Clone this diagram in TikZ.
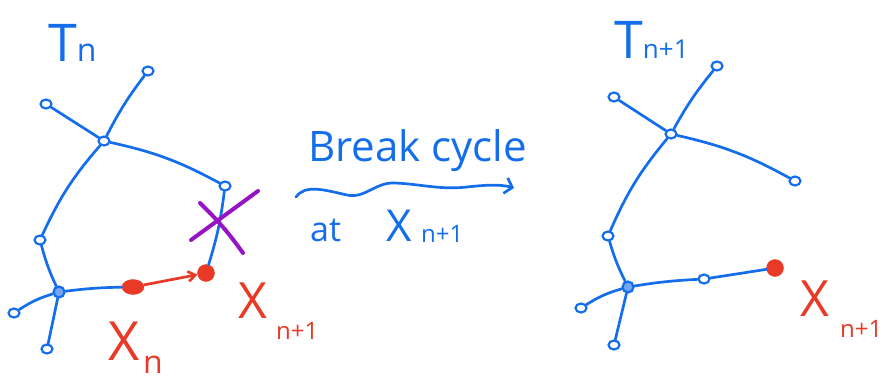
\documentclass[tikz,border=0pt]{standalone}
\usepackage{fontspec}
\setmainfont{Open Sans}
\usetikzlibrary{arrows.meta,shapes.geometric}
\definecolor{pblue}{RGB}{20,110,235}
\definecolor{pred}{RGB}{232,58,38}
\definecolor{ppurple}{RGB}{150,20,195}
\begin{document}
\begin{tikzpicture}[x=1pt,y=-1pt,
  edge/.style={draw=pblue,line width=2.7pt,line cap=round},
  leaf/.style={draw=pblue,line width=2.2pt,ellipse,minimum width=11pt,minimum height=9pt,inner sep=0pt},
  hub/.style={draw=pblue,fill=pblue!60,line width=2.2pt,circle,minimum size=11pt,inner sep=0pt},
  reddot/.style={draw=pred,fill=pred,circle,minimum size=17pt,inner sep=0pt},
  redoval/.style={draw=pred,fill=pred,ellipse,minimum width=22pt,minimum height=15pt,inner sep=0pt},
  bluetxt/.style={text=pblue,inner sep=0pt},
  redtxt/.style={text=pred,inner sep=0pt}]
\useasboundingbox (0,0) rectangle (886,381);
% ---------- left tree ----------
\node[bluetxt,font=\fontsize{52}{52}\selectfont,anchor=base west] (tn) at (48,61) {T\fontsize{32}{32}\selectfont n};
\node[leaf] (a) at (148,71) {};
\node[leaf] (b) at (46,104) {};
\node[leaf] (c) at (104,141) {};
\node[leaf] (d) at (225,186) {};
\node[leaf] (e) at (40,240) {};
\node[hub]  (f) at (59,292) {};
\node[leaf] (g) at (14,313) {};
\node[leaf] (h) at (47,349) {};
\node[redoval] (xn) at (133,287) {};
\node[reddot] (xm) at (206,273) {};
\draw[edge] (c) to[bend left=5] (a);
\draw[edge] (b) -- (c);
\draw[edge] (c) to[bend left=8] (d);
\draw[edge] (e) to[bend left=8] (c);
\draw[edge] (e) to[bend right=5] (f);
\draw[edge] (g) to[bend left=8] (f);
\draw[edge] (f) -- (h);
\draw[edge] (f) to[bend left=3] (xn);
\draw[edge] (d) to[bend left=5] (xm);
\draw[draw=pred,line width=2.7pt,-{Straight Barb[length=7pt,width=10pt]}] (xn) -- (xm);
\draw[draw=ppurple,line width=4pt,line cap=round] (200,203) to[bend left=5] (243,253);
\draw[draw=ppurple,line width=4pt,line cap=round] (191,240) -- (258,191);
\node[redtxt,font=\fontsize{54}{54}\selectfont,anchor=base west] (lxn) at (108,360) {X};
\node[redtxt,font=\fontsize{32}{32}\selectfont,anchor=base west] (lxnn) at (143,373) {n};
\node[redtxt,font=\fontsize{50}{50}\selectfont,anchor=base west] (lxm) at (238,318) {X};
\node[redtxt,font=\fontsize{24}{24}\selectfont,anchor=base west] (lxmm) at (276,339) {n+1};
% ---------- middle ----------
\node[bluetxt,font=\fontsize{42}{42}\selectfont,anchor=base west] (brk) at (308,161) {Break cycle};
\coordinate (ws) at (296,197);
\coordinate (we) at (514,188);
\draw[edge,-{Straight Barb[length=7pt,width=16pt]}] (ws) .. controls (305,184) and (325,190) .. (347,195)
   .. controls (365,199) and (375,182) .. (395,183)
   .. controls (420,184) and (440,190) .. (467,187)
   .. controls (485,185) and (500,184) .. (we);
\node[bluetxt,font=\fontsize{34}{34}\selectfont,anchor=base west] (at) at (310,241) {at};
\node[bluetxt,font=\fontsize{44}{44}\selectfont,anchor=base west] (ax) at (386,241) {X};
\node[bluetxt,font=\fontsize{24}{24}\selectfont,anchor=base west] (axn) at (421,242) {n+1};
% ---------- right tree ----------
\node[bluetxt,font=\fontsize{52}{52}\selectfont,anchor=base west] (tm) at (614,58) {T\fontsize{26}{26}\selectfont n+1};
\node[leaf] (ra) at (717,66) {};
\node[leaf] (rb) at (614,97) {};
\node[leaf] (rc) at (671,134) {};
\node[leaf] (rd) at (795,181) {};
\node[leaf] (re) at (608,236) {};
\node[hub]  (rf) at (628,287) {};
\node[leaf] (rg) at (581,308) {};
\node[leaf] (rh) at (614,345) {};
\node[leaf] (rx) at (704,279) {};
\node[reddot] (rm) at (775,268) {};
\draw[edge] (rc) to[bend left=5] (ra);
\draw[edge] (rb) -- (rc);
\draw[edge] (rc) to[bend left=8] (rd);
\draw[edge] (re) to[bend left=8] (rc);
\draw[edge] (re) to[bend right=5] (rf);
\draw[edge] (rg) to[bend left=8] (rf);
\draw[edge] (rf) -- (rh);
\draw[edge] (rf) to[bend left=3] (rx);
\draw[edge] (rx) -- (rm);
\node[redtxt,font=\fontsize{50}{50}\selectfont,anchor=base west] (rlx) at (800,316) {X};
\node[redtxt,font=\fontsize{24}{24}\selectfont,anchor=base west] (rlxn) at (840,337) {n+1};
\end{tikzpicture}
\end{document}
